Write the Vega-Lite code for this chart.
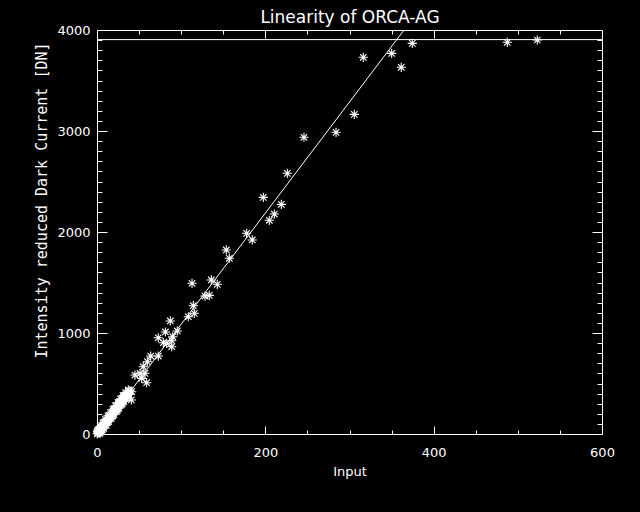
{
  "$schema": "https://vega.github.io/schema/vega-lite/v6.json",
  "autosize": "none",
  "width": 505,
  "height": 404,
  "padding": {"left": 97, "top": 30, "right": 38, "bottom": 78},
  "background": "black",
  "config": {
    "view": {"stroke": "white", "strokeWidth": 1},
    "axis": {"grid": false, "domain": false, "tickColor": "white", "tickWidth": 1, "labelColor": "white", "labelFont": "DejaVu Sans", "labelFontSize": 13, "titleColor": "white", "titleFont": "DejaVu Sans", "titleFontSize": 13, "titleFontWeight": "normal", "format": "d"}
  },
  "datasets": {
    "pts": [
      {"input": 523.1, "dn": 3901}, {"input": 487.5, "dn": 3878}, {"input": 374.6, "dn": 3868},
      {"input": 350.1, "dn": 3769}, {"input": 316.4, "dn": 3730}, {"input": 361.5, "dn": 3631},
      {"input": 305.7, "dn": 3165}, {"input": 284.0, "dn": 2987}, {"input": 245.9, "dn": 2938},
      {"input": 226.1, "dn": 2581}, {"input": 197.6, "dn": 2343}, {"input": 219.0, "dn": 2274},
      {"input": 210.7, "dn": 2178}, {"input": 204.7, "dn": 2116}, {"input": 177.8, "dn": 1987},
      {"input": 184.5, "dn": 1921}, {"input": 153.6, "dn": 1822}, {"input": 157.2, "dn": 1740},
      {"input": 112.9, "dn": 1492}, {"input": 135.8, "dn": 1525}, {"input": 142.9, "dn": 1482},
      {"input": 128.3, "dn": 1366}, {"input": 133.4, "dn": 1373}, {"input": 114.4, "dn": 1270},
      {"input": 115.6, "dn": 1195}, {"input": 108.5, "dn": 1161}, {"input": 87.1, "dn": 1119},
      {"input": 81.2, "dn": 1010}, {"input": 95.4, "dn": 1020}, {"input": 72.8, "dn": 953},
      {"input": 78.8, "dn": 904}, {"input": 82.8, "dn": 898}, {"input": 89.9, "dn": 963},
      {"input": 88.8, "dn": 924}, {"input": 88.7, "dn": 864},
      {"input": 72.8, "dn": 772}, {"input": 63.8, "dn": 772}, {"input": 59.8, "dn": 716},
      {"input": 55.0, "dn": 666}, {"input": 45.1, "dn": 584}, {"input": 51.1, "dn": 601},
      {"input": 57.0, "dn": 601}, {"input": 59.0, "dn": 508}, {"input": 53.1, "dn": 551},
      {"input": 37.2, "dn": 436}, {"input": 41.2, "dn": 419}, {"input": 40.8, "dn": 337},
      {"input": 31.3, "dn": 369},
      {"input": 0.3, "dn": 2}, {"input": 0.8, "dn": 8}, {"input": 1.2, "dn": 12}, {"input": 1.7, "dn": 18},
      {"input": 2.3, "dn": 24}, {"input": 2.9, "dn": 30}, {"input": 3.4, "dn": 36}, {"input": 4.1, "dn": 42},
      {"input": 4.6, "dn": 50}, {"input": 5.2, "dn": 55}, {"input": 5.9, "dn": 63}, {"input": 6.5, "dn": 70},
      {"input": 7.2, "dn": 77}, {"input": 7.8, "dn": 84}, {"input": 8.5, "dn": 90}, {"input": 9.1, "dn": 98},
      {"input": 9.8, "dn": 106}, {"input": 10.5, "dn": 112}, {"input": 11.2, "dn": 120}, {"input": 12.0, "dn": 128},
      {"input": 12.7, "dn": 136}, {"input": 13.5, "dn": 144}, {"input": 14.2, "dn": 152}, {"input": 15.0, "dn": 162},
      {"input": 15.8, "dn": 170}, {"input": 16.6, "dn": 180}, {"input": 17.5, "dn": 188}, {"input": 18.3, "dn": 198},
      {"input": 19.2, "dn": 208}, {"input": 20.0, "dn": 218}, {"input": 21.0, "dn": 228}, {"input": 22.0, "dn": 238},
      {"input": 23.0, "dn": 250}, {"input": 24.0, "dn": 260}, {"input": 25.0, "dn": 272}, {"input": 26.0, "dn": 282},
      {"input": 27.0, "dn": 294}, {"input": 28.0, "dn": 305}, {"input": 29.0, "dn": 316}, {"input": 30.0, "dn": 328},
      {"input": 31.5, "dn": 343}, {"input": 33.0, "dn": 358}, {"input": 34.5, "dn": 375}, {"input": 36.0, "dn": 392},
      {"input": 37.5, "dn": 410}, {"input": 39.0, "dn": 428},
      {"input": 3.0, "dn": 45}, {"input": 6.0, "dn": 40}, {"input": 9.0, "dn": 115}, {"input": 12.0, "dn": 110},
      {"input": 15.0, "dn": 185}, {"input": 18.0, "dn": 175}, {"input": 21.0, "dn": 250}, {"input": 24.0, "dn": 235},
      {"input": 27.0, "dn": 318}, {"input": 30.0, "dn": 300}, {"input": 33.0, "dn": 380}, {"input": 36.0, "dn": 370},
      {"input": 26.0, "dn": 300}, {"input": 20.0, "dn": 240}, {"input": 14.0, "dn": 165}, {"input": 8.0, "dn": 100},
      {"input": 2.0, "dn": 35},
      {"input": 1.0, "dn": 40}, {"input": 4.0, "dn": 75}, {"input": 7.0, "dn": 110}, {"input": 10.0, "dn": 145},
      {"input": 13.0, "dn": 180}, {"input": 16.0, "dn": 212}, {"input": 19.0, "dn": 245}, {"input": 22.0, "dn": 280},
      {"input": 25.0, "dn": 312}, {"input": 28.0, "dn": 345}, {"input": 31.0, "dn": 380}, {"input": 34.0, "dn": 410},
      {"input": 5.0, "dn": 20}, {"input": 8.0, "dn": 55}, {"input": 11.0, "dn": 88}, {"input": 14.0, "dn": 122},
      {"input": 17.0, "dn": 155}, {"input": 20.0, "dn": 190}, {"input": 23.0, "dn": 222}, {"input": 26.0, "dn": 255},
      {"input": 29.0, "dn": 288}, {"input": 32.0, "dn": 322}, {"input": 35.0, "dn": 355}, {"input": 38.0, "dn": 392},
      {"input": 3.5, "dn": 5}, {"input": 0.5, "dn": 25}
    ],
    "fit": [
      {"input": 1.2, "dn": 0},
      {"input": 364.8, "dn": 4000}
    ],
    "sat": [
      {"x0": 0, "x1": 600, "dn": 3905}
    ]
  },
  "layer": [
    {
      "data": {"name": "pts"},
      "mark": {"type": "point", "shape": "M-1,0H1M0,-1V1M-0.7,-0.7L0.7,0.7M-0.7,0.7L0.7,-0.7", "filled": false, "stroke": "white", "strokeWidth": 1.1, "size": 85, "opacity": 1},
      "encoding": {
        "x": {"field": "input", "type": "quantitative", "scale": {"domain": [0, 600], "nice": false, "zero": false},
              "axis": {"orient": "bottom", "values": [0, 200, 400, 600], "tickSize": -8, "labelPadding": 20, "labelBaseline": "top", "labelFlush": false, "title": "Input", "titleBaseline": "alphabetic", "titleY": 41}},
        "y": {"field": "dn", "type": "quantitative", "scale": {"domain": [0, 4000], "nice": false, "zero": false},
              "axis": {"orient": "left", "values": [0, 1000, 2000, 3000, 4000], "tickSize": -10, "labelPadding": 17, "labelFlush": true, "labelBaseline": "middle",
                       "title": "Intensity reduced Dark Current [DN]", "titleFont": "DejaVu Sans Mono", "titleFontSize": 15, "titleAngle": 270, "titleX": -56, "titleY": 170, "titleAlign": "center", "titleBaseline": "middle"}}
      }
    },
    {
      "data": {"name": "fit"},
      "mark": {"type": "line", "color": "white", "strokeWidth": 1},
      "encoding": {
        "x": {"field": "input", "type": "quantitative", "scale": {"domain": [0, 600], "nice": false, "zero": false},
              "axis": {"orient": "bottom", "values": [50, 100, 150, 250, 300, 350, 450, 500, 550], "tickSize": -4, "labels": false, "title": null}},
        "y": {"field": "dn", "type": "quantitative", "scale": {"domain": [0, 4000], "nice": false, "zero": false},
              "axis": {"orient": "left", "values": [100, 200, 300, 400, 500, 600, 700, 800, 900, 1100, 1200, 1300, 1400, 1500, 1600, 1700, 1800, 1900, 2100, 2200, 2300, 2400, 2500, 2600, 2700, 2800, 2900, 3100, 3200, 3300, 3400, 3500, 3600, 3700, 3800, 3900], "tickSize": -5, "labels": false, "title": null}}
      }
    },
    {
      "data": {"name": "sat"},
      "mark": {"type": "rule", "color": "white", "strokeWidth": 1},
      "encoding": {
        "x": {"field": "x0", "type": "quantitative", "scale": {"domain": [0, 600], "nice": false, "zero": false},
              "axis": {"orient": "top", "values": [200, 400], "tickSize": -8, "labels": false,
                       "title": "Linearity of ORCA-AG", "titleFont": "DejaVu Sans", "titleFontSize": 17, "titleBaseline": "alphabetic", "titleAlign": "center", "titleY": -8}},
        "x2": {"field": "x1"},
        "y": {"field": "dn", "type": "quantitative", "scale": {"domain": [0, 4000], "nice": false, "zero": false},
              "axis": {"orient": "right", "values": [1000, 2000, 3000], "tickSize": -10, "labels": false, "title": null}}
      }
    },
    {
      "data": {"name": "fit"},
      "mark": {"type": "point", "opacity": 0},
      "encoding": {
        "x": {"field": "input", "type": "quantitative", "scale": {"domain": [0, 600], "nice": false, "zero": false},
              "axis": {"orient": "top", "values": [50, 100, 150, 250, 300, 350, 450, 500, 550], "tickSize": -4, "labels": false, "title": null}},
        "y": {"field": "dn", "type": "quantitative", "scale": {"domain": [0, 4000], "nice": false, "zero": false},
              "axis": {"orient": "right", "values": [100, 200, 300, 400, 500, 600, 700, 800, 900, 1100, 1200, 1300, 1400, 1500, 1600, 1700, 1800, 1900, 2100, 2200, 2300, 2400, 2500, 2600, 2700, 2800, 2900, 3100, 3200, 3300, 3400, 3500, 3600, 3700, 3800, 3900], "tickSize": -5, "labels": false, "title": null}}
      }
    }
  ],
  "resolve": {"axis": {"x": "independent", "y": "independent"}}
}
